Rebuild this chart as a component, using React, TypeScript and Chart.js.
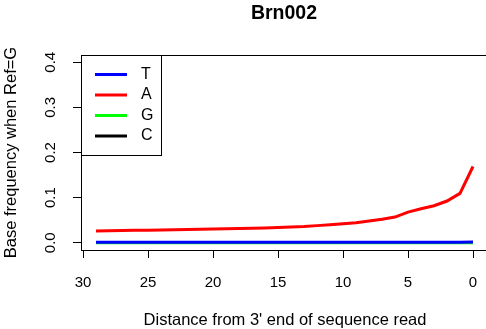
import React, { useEffect, useRef } from "react";
import { Chart, registerables } from "chart.js";

Chart.register(...registerables);

const title = "Brn002";
const xTitle = "Distance from 3' end of sequence read";
const yTitle = "Base frequency when Ref=G";
const positions = [29, 28, 27, 26, 25, 24, 23, 22, 21, 20, 19, 18, 17, 16, 15, 14, 13, 12, 11, 10, 9, 8, 7, 6, 5, 4, 3, 2, 1, 0];
const seriesT = [0.001, 0.001, 0.001, 0.001, 0.001, 0.001, 0.001, 0.001, 0.001, 0.001, 0.001, 0.001, 0.001, 0.001, 0.001, 0.001, 0.001, 0.001, 0.001, 0.001, 0.001, 0.001, 0.001, 0.001, 0.001, 0.001, 0.001, 0.0012, 0.0013, 0.0015];
const seriesA = [0.026, 0.0265, 0.027, 0.0275, 0.028, 0.0285, 0.029, 0.0295, 0.030, 0.0305, 0.031, 0.0315, 0.032, 0.033, 0.034, 0.035, 0.036, 0.038, 0.040, 0.042, 0.0445, 0.048, 0.052, 0.057, 0.068, 0.0754, 0.082, 0.0925, 0.1095, 0.169];
const seriesG = [0, 0, 0, 0, 0, 0, 0, 0, 0, 0, 0, 0, 0, 0, 0, 0, 0, 0, 0, 0, 0, 0, 0, 0, 0, 0, 0, 0, 0, 0];
const seriesC = [0.0005, 0.0005, 0.0005, 0.0005, 0.0005, 0.0005, 0.0005, 0.0005, 0.0005, 0.0005, 0.0005, 0.0005, 0.0005, 0.0005, 0.0005, 0.0005, 0.0005, 0.0005, 0.0005, 0.0005, 0.0005, 0.0005, 0.0005, 0.0005, 0.0005, 0.0005, 0.0005, 0.0005, 0.0005, 0.0005];
const seriesNames = ["T", "A", "G", "C"];
const seriesColors = ["#0000FF", "#FF0000", "#00FF00", "#000000"];
const xTicks = [30, 25, 20, 15, 10, 5, 0];
const yTicks = [0, 0.1, 0.2, 0.3, 0.4];

const FONT = "'Liberation Sans', Arial, Helvetica, sans-serif";

const decorPlugin = {
  id: "rDecor",
  afterDraw(chart: any) {
    const ctx = chart.ctx as CanvasRenderingContext2D;
    const ca = chart.chartArea;
    const ys = chart.scales.y;
    ctx.save();
    // top border
    ctx.strokeStyle = "#000";
    ctx.lineWidth = 1;
    ctx.beginPath();
    ctx.moveTo(ca.left, ca.top + 0.5);
    ctx.lineTo(ca.right, ca.top + 0.5);
    ctx.stroke();
    // y tick labels rotated
    ctx.fillStyle = "#000";
    ctx.font = `15px ${FONT}`;
    ctx.textAlign = "center";
    ctx.textBaseline = "middle";
    for (const v of yTicks) {
      const py = ys.getPixelForValue(v);
      ctx.save();
      ctx.translate(51, py);
      ctx.rotate(-Math.PI / 2);
      ctx.fillText(v.toFixed(1), 0, 0);
      ctx.restore();
    }
    // y title
    ctx.save();
    ctx.font = `16.5px ${FONT}`;
    ctx.translate(11, (ca.top + ca.bottom) / 2);
    ctx.rotate(-Math.PI / 2);
    ctx.fillText(yTitle, 0, 0);
    ctx.restore();
    // x title
    ctx.font = `16.5px ${FONT}`;
    ctx.fillText(xTitle, 285, 320);
    // main title
    ctx.font = `bold 19.5px ${FONT}`;
    ctx.fillText(title, 284, 14);
    // legend
    const lx = ca.left;
    const ly = ca.top;
    ctx.fillStyle = "#fff";
    ctx.fillRect(lx, ly, 80, 100);
    ctx.strokeStyle = "#000";
    ctx.lineWidth = 1;
    ctx.strokeRect(lx + 0.5, ly + 0.5, 80, 100);
    ctx.font = `16px ${FONT}`;
    ctx.textAlign = "left";
    chart.data.datasets.forEach((ds: any, i: number) => {
      const yy = ly + 19.5 + i * 20.5;
      ctx.strokeStyle = ds.borderColor;
      ctx.lineWidth = 3;
      ctx.beginPath();
      ctx.moveTo(lx + 14, yy);
      ctx.lineTo(lx + 46, yy);
      ctx.stroke();
      ctx.fillStyle = "#000";
      ctx.fillText(ds.label, lx + 60, yy);
    });
    ctx.restore();
  },
};

export default function App() {
  const ref = useRef<HTMLCanvasElement>(null);
  useEffect(() => {
    const seriesData = [seriesT, seriesA, seriesG, seriesC];
    const chart = new Chart(ref.current!, {
      type: "line",
      data: {
        datasets: seriesNames.map((name, i) => ({
          label: name,
          data: positions.map((p, j) => ({ x: p, y: seriesData[i][j] })),
          borderColor: seriesColors[i],
          backgroundColor: seriesColors[i],
          borderWidth: 3,
          pointRadius: 0,
          tension: 0,
        })),
      },
      options: {
        animation: false,
        responsive: false,
        maintainAspectRatio: false,
        layout: { padding: { left: 0, top: 55, right: 0, bottom: 0 } },
        plugins: { legend: { display: false }, title: { display: false }, tooltip: { enabled: false } },
        scales: {
          x: {
            type: "linear",
            reverse: true,
            min: -1.0,
            max: 30.154,
            afterBuildTicks: (s: any) => { s.ticks = xTicks.map((v) => ({ value: v })); },
            afterFit: (s: any) => { s.height = 79; s.paddingLeft = 0; s.paddingRight = 0; },
            grid: { drawOnChartArea: false, drawTicks: true, tickLength: 8, color: "#000", tickWidth: 1 },
            border: { display: true, color: "#000", width: 1 },
            ticks: {
              color: "#000",
              font: { family: FONT, size: 15 },
              padding: 16,
              maxRotation: 0,
              minRotation: 0,
              callback: (v: any) => String(v),
            },
          },
          y: {
            type: "linear",
            min: -0.016,
            max: 0.416,
            afterBuildTicks: (s: any) => { s.ticks = yTicks.map((v) => ({ value: v })); },
            afterFit: (s: any) => { s.width = 81; s.paddingTop = 0; s.paddingBottom = 0; },
            grid: { drawOnChartArea: false, drawTicks: true, tickLength: 8, color: "#000", tickWidth: 1 },
            border: { display: true, color: "#000", width: 1 },
            ticks: { display: true, color: "rgba(0,0,0,0)", font: { family: FONT, size: 14 }, callback: (v: any) => Number(v).toFixed(1) },
          },
        },
      },
      plugins: [decorPlugin],
    });
    return () => chart.destroy();
  }, []);
  return (
    <div style={{ position: "absolute", left: 0, top: 0, width: 486, height: 329, background: "#fff" }}>
      <canvas ref={ref} width={486} height={329} style={{ width: 486, height: 329, display: "block" }} />
    </div>
  );
}
